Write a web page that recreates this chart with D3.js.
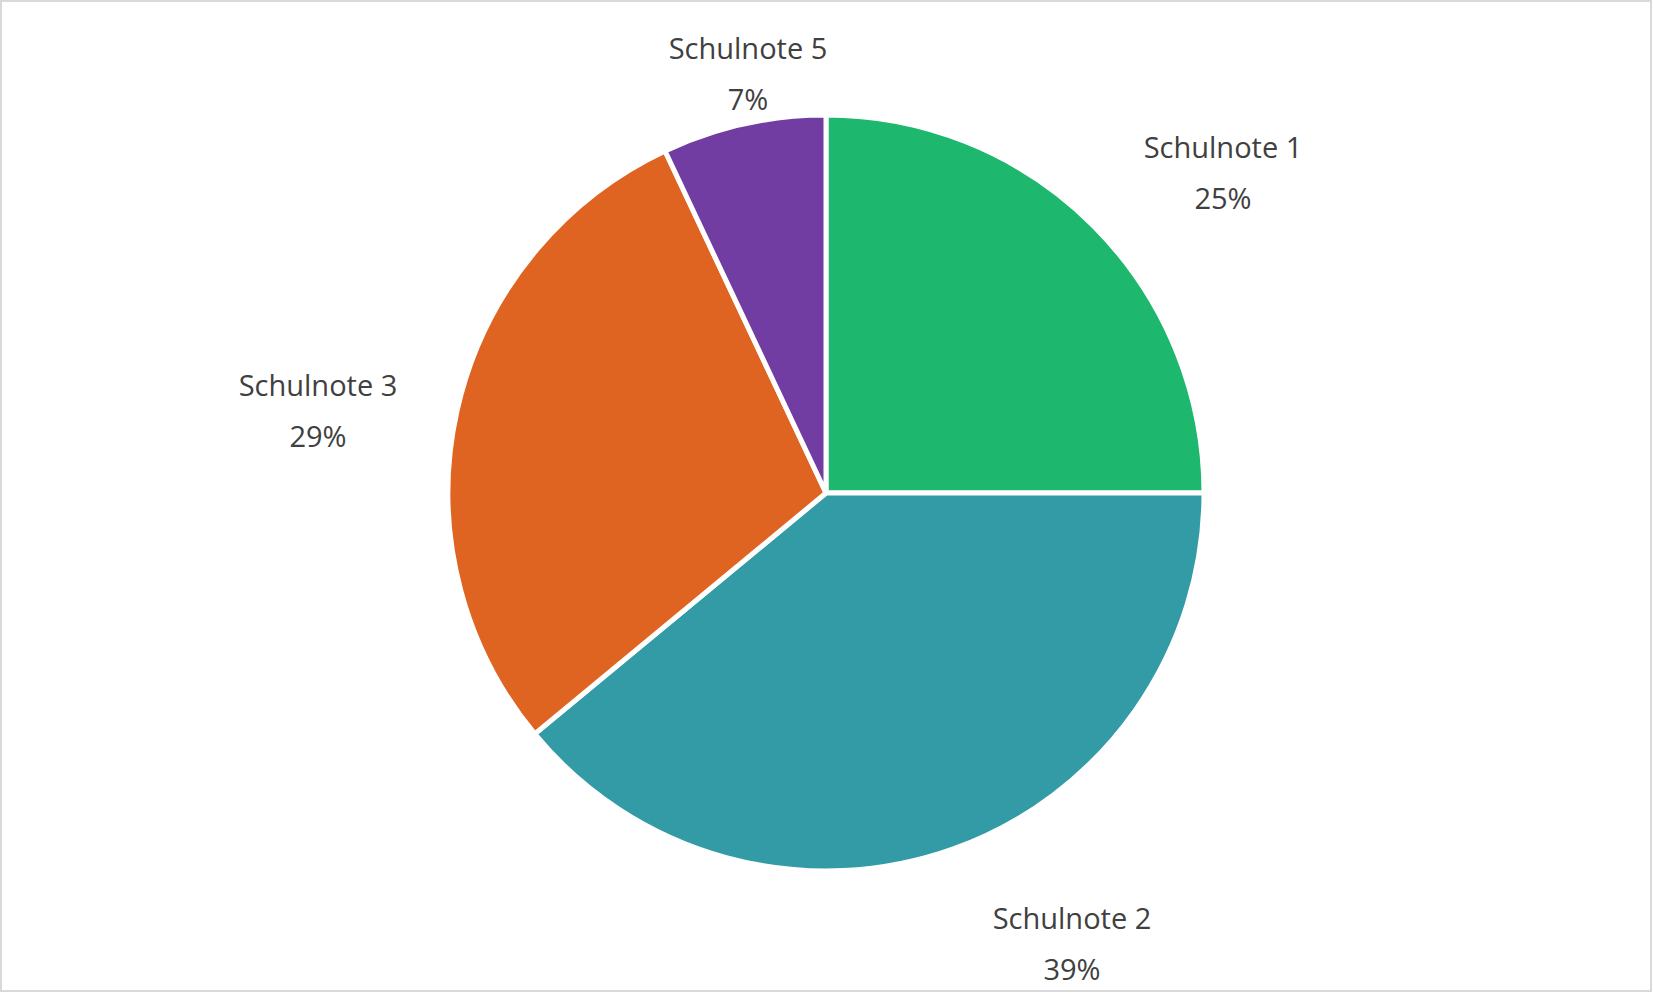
<!DOCTYPE html>
<html>
<head>
<meta charset="utf-8">
<script src="https://cdn.jsdelivr.net/npm/d3@7"></script>
<style>
  body { margin: 0; background: #fff; }
  text { font-family: "Open Sans", "Noto Sans", sans-serif; fill: #404040; font-size: 29px; }
</style>
</head>
<body>
<svg id="chart" width="1653" height="993"></svg>
<script>
  var
    categories = ['Schulnote 1', 'Schulnote 2', 'Schulnote 3', 'Schulnote 5'],
    values = [25, 39, 29, 7],
    colors = ['#1DB76E', '#339BA5', '#DF6422', '#723DA2'],
    // label anchor offsets (relative to centre)
    labelPos = [[397, -335], [246, 436], [-508, -97], [-78, -434]];

  var svg = d3.select('#chart'),
      cx = 826, cy = 493, r = 378;

  svg.append('rect')
    .attr('x', 1).attr('y', 1).attr('width', 1650).attr('height', 990)
    .attr('fill', '#fff').attr('stroke', '#d9d9d9').attr('stroke-width', 2);

  var data = categories.map(function(c, i) {
    return {name: c, value: values[i], color: colors[i], pos: labelPos[i]};
  });

  var pie = d3.pie().sort(null).value(function(d) { return d.value; }),
      arc = d3.arc().innerRadius(0).outerRadius(r);

  var g = svg.append('g').attr('transform', 'translate(' + cx + ',' + cy + ')');

  g.selectAll('path')
    .data(pie(data))
    .enter()
    .append('path')
    .attr('d', arc)
    .attr('fill', function(d) { return d.data.color; })
    .attr('stroke', '#fff')
    .attr('stroke-width', 5)
    .attr('stroke-linejoin', 'miter');

  var total = d3.sum(values);
  var labels = g.selectAll('text.lbl')
    .data(data)
    .enter()
    .append('text')
    .attr('class', 'lbl')
    .attr('text-anchor', 'middle')
    .attr('transform', function(d) { return 'translate(' + d.pos[0] + ',' + d.pos[1] + ')'; });

  labels.append('tspan').attr('x', 0).attr('y', 0).text(function(d) { return d.name; });
  labels.append('tspan').attr('x', 0).attr('y', 51)
    .text(function(d) { return Math.round(d.value / total * 100) + '%'; });
</script>
</body>
</html>
